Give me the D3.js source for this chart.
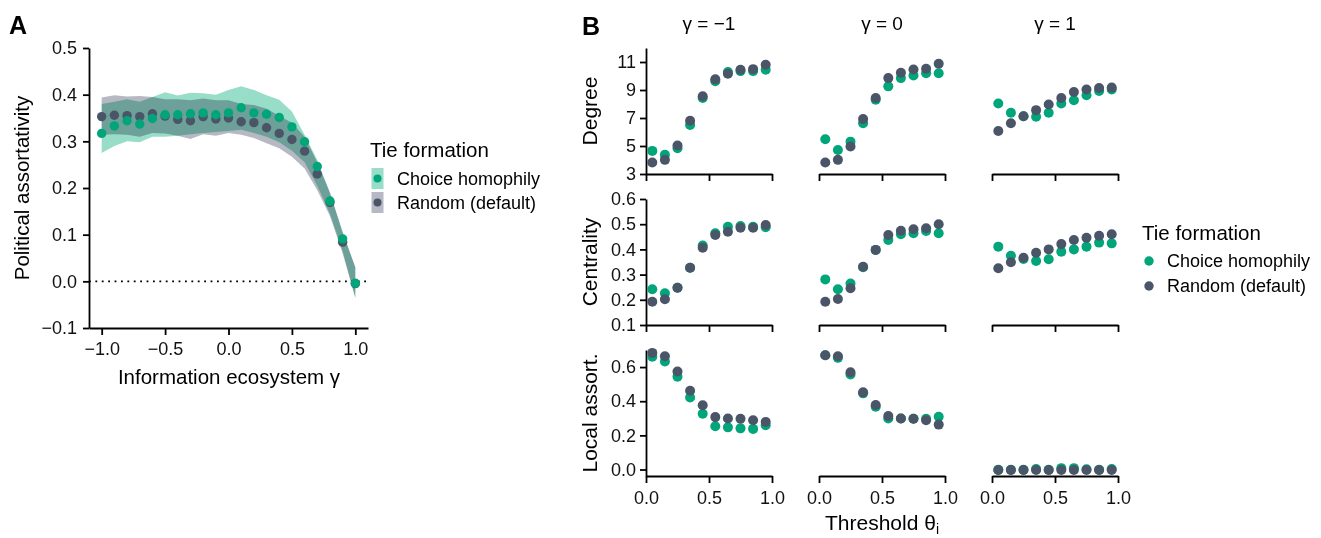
<!DOCTYPE html>
<html>
<head>
<meta charset="utf-8">
<script src="https://cdn.jsdelivr.net/npm/d3@7"></script>
<style>
  body { margin: 0; background: #fff; }
  svg { font-family: "Liberation Sans", Arial, sans-serif; }
  .axis path, .axis line { stroke: #000; stroke-width: 1.8; }
  .axis text { fill: #111; }
</style>
</head>
<body>
<div id="chart"></div>
<script>
// panel A data: political assortativity vs information ecosystem gamma
const gammaA = [-1.0, -0.9, -0.8, -0.7, -0.6, -0.5, -0.4, -0.3, -0.2, -0.1, 0.0, 0.1, 0.2, 0.3, 0.4, 0.5, 0.6, 0.7, 0.8, 0.9, 1.0];
const choiceA = [0.317, 0.333, 0.344, 0.337, 0.349, 0.357, 0.357, 0.359, 0.361, 0.357, 0.361, 0.372, 0.361, 0.358, 0.351, 0.331, 0.299, 0.246, 0.172, 0.091, -0.004];
const choiceLoA = [0.275, 0.290, 0.300, 0.298, 0.310, 0.310, 0.312, 0.315, 0.318, 0.320, 0.322, 0.325, 0.318, 0.310, 0.298, 0.280, 0.255, 0.205, 0.145, 0.065, -0.035];
const choiceHiA = [0.380, 0.385, 0.390, 0.385, 0.395, 0.405, 0.398, 0.404, 0.403, 0.400, 0.410, 0.418, 0.410, 0.399, 0.389, 0.364, 0.314, 0.260, 0.190, 0.105, 0.030];
const randomA = [0.353, 0.356, 0.355, 0.353, 0.359, 0.354, 0.347, 0.344, 0.353, 0.348, 0.350, 0.342, 0.340, 0.329, 0.317, 0.304, 0.279, 0.230, 0.169, 0.084, -0.005];
const randomLoA = [0.314, 0.315, 0.314, 0.310, 0.318, 0.317, 0.312, 0.305, 0.315, 0.312, 0.318, 0.314, 0.307, 0.296, 0.285, 0.267, 0.242, 0.195, 0.140, 0.060, -0.035];
const randomHiA = [0.394, 0.399, 0.396, 0.397, 0.395, 0.390, 0.390, 0.388, 0.392, 0.388, 0.388, 0.380, 0.378, 0.370, 0.355, 0.340, 0.310, 0.255, 0.190, 0.105, 0.030];

// panel B data: thresholds x gamma columns
const thresholds = [0.05, 0.15, 0.25, 0.35, 0.45, 0.55, 0.65, 0.75, 0.85, 0.95];
const gammaB = ["\u03b3 = \u22121", "\u03b3 = 0", "\u03b3 = 1"];
const degreeChoice = [
  [4.65, 4.37, 4.84, 6.50, 8.43, 9.62, 10.28, 10.35, 10.35, 10.45],
  [5.48, 4.72, 5.31, 6.62, 8.30, 9.26, 9.85, 10.04, 10.20, 10.20],
  [8.03, 7.37, 7.13, 7.09, 7.37, 8.03, 8.27, 8.62, 8.93, 9.03]];
const degreeRandom = [
  [3.82, 4.01, 5.03, 6.80, 8.55, 9.76, 10.16, 10.45, 10.49, 10.80],
  [3.82, 4.01, 4.96, 6.92, 8.43, 9.85, 10.23, 10.47, 10.52, 10.87],
  [6.07, 6.62, 7.13, 7.56, 7.96, 8.43, 8.86, 9.03, 9.14, 9.17]];
const centralityChoice = [
  [0.242, 0.226, 0.248, 0.327, 0.415, 0.464, 0.490, 0.493, 0.490, 0.488],
  [0.281, 0.242, 0.265, 0.329, 0.398, 0.437, 0.460, 0.464, 0.473, 0.464],
  [0.411, 0.375, 0.362, 0.354, 0.361, 0.391, 0.400, 0.411, 0.427, 0.424]];
const centralityRandom = [
  [0.192, 0.202, 0.248, 0.327, 0.407, 0.457, 0.470, 0.486, 0.486, 0.497],
  [0.192, 0.203, 0.246, 0.331, 0.398, 0.457, 0.474, 0.480, 0.484, 0.500],
  [0.325, 0.349, 0.367, 0.387, 0.400, 0.421, 0.437, 0.446, 0.454, 0.460]];
const localChoice = [
  [0.660, 0.633, 0.544, 0.422, 0.327, 0.253, 0.247, 0.241, 0.238, 0.259],
  [0.669, 0.654, 0.556, 0.446, 0.368, 0.299, 0.299, 0.297, 0.297, 0.309],
  [-0.002, -0.002, -0.002, 0.003, -0.002, 0.008, 0.008, 0.002, -0.002, 0.003]];
const localRandom = [
  [0.683, 0.663, 0.574, 0.461, 0.376, 0.307, 0.299, 0.297, 0.289, 0.279],
  [0.669, 0.663, 0.570, 0.452, 0.378, 0.313, 0.299, 0.297, 0.289, 0.263],
  [-0.003, -0.003, -0.003, -0.003, -0.003, -0.003, -0.003, -0.003, -0.003, -0.003]];

const seriesNames = ["Choice homophily", "Random (default)"];

// colours
const green = "#00a67a";
const slate = "#4a5568";
const greenBand = "#98ddc7";
const slateBand = "#b6b9c3";

const width = 1321, height = 538;
const svg = d3.select("#chart").append("svg")
  .attr("width", width).attr("height", height);

// ---------- panel A ----------
const xA = d3.scaleLinear().domain([-1.1, 1.1]).range([89, 368]);
const yA = d3.scaleLinear().domain([-0.1, 0.5]).range([328, 48]);

const area = (lo, hi) => d3.area()
  .x((d, i) => xA(gammaA[i]))
  .y0((d, i) => yA(lo[i]))
  .y1((d, i) => yA(hi[i]));

svg.append("path")
  .attr("d", area(randomLoA, randomHiA)(gammaA))
  .attr("fill", slateBand)
  .style("mix-blend-mode", "multiply");
svg.append("path")
  .attr("d", area(choiceLoA, choiceHiA)(gammaA))
  .attr("fill", greenBand)
  .style("mix-blend-mode", "multiply");

// zero line
svg.append("line")
  .attr("x1", xA.range()[0]).attr("x2", xA.range()[1])
  .attr("y1", yA(0)).attr("y2", yA(0))
  .attr("stroke", "#000").attr("stroke-width", 1.8)
  .attr("stroke-dasharray", "1.8,4.6");

svg.append("g").selectAll("circle")
  .data(randomA).join("circle")
    .attr("cx", (d, i) => xA(gammaA[i]))
    .attr("cy", d => yA(d))
    .attr("r", 4.7)
    .attr("fill", slate);
svg.append("g").selectAll("circle")
  .data(choiceA).join("circle")
    .attr("cx", (d, i) => xA(gammaA[i]))
    .attr("cy", d => yA(d))
    .attr("r", 4.7)
    .attr("fill", green);

const axA_y = svg.append("g").attr("class", "axis")
  .attr("transform", "translate(89,0)")
  .call(d3.axisLeft(yA).tickValues([-0.1, 0, 0.1, 0.2, 0.3, 0.4, 0.5])
    .tickFormat(d3.format(".1f")).tickSize(6).tickSizeOuter(0).tickPadding(6));
const axA_x = svg.append("g").attr("class", "axis")
  .attr("transform", "translate(0,328)")
  .call(d3.axisBottom(xA).tickValues([-1, -0.5, 0, 0.5, 1])
    .tickFormat(d3.format(".1f")).tickSize(7).tickSizeOuter(0).tickPadding(7));
[axA_y, axA_x].forEach(g => g.selectAll("text").attr("font-size", 18).attr("font-family", null));

svg.append("text")
  .attr("transform", "translate(29,188) rotate(-90)")
  .attr("text-anchor", "middle")
  .attr("font-size", 20.5)
  .text("Political assortativity");
svg.append("text")
  .attr("x", 229).attr("y", 384)
  .attr("text-anchor", "middle")
  .attr("font-size", 20.5)
  .text("Information ecosystem \u03b3");

svg.append("text").attr("x", 9).attr("y", 34)
  .attr("font-size", 25).attr("font-weight", "bold").text("A");

// legend A
const legA = svg.append("g").attr("transform", "translate(370,0)");
legA.append("text").attr("x", 0).attr("y", 157).attr("font-size", 20.5).text("Tie formation");
const legAItems = legA.selectAll(".item")
  .data(seriesNames).join("g")
    .attr("class", "item")
    .attr("transform", (d, i) => `translate(0,${168 + i * 24})`);
legAItems.append("rect")
  .attr("x", 1.5).attr("width", 12).attr("height", 21)
  .attr("fill", (d, i) => i === 0 ? greenBand : slateBand);
legAItems.append("circle")
  .attr("cx", 7.5).attr("cy", 10.5).attr("r", 4)
  .attr("fill", (d, i) => i === 0 ? green : slate);
legAItems.append("text")
  .attr("x", 27).attr("y", 17)
  .attr("font-size", 18)
  .text(d => d);

// ---------- panel B ----------
const colX0 = [646, 819, 992];
const colW = 126;
const rows = [
  { label: "Degree", top: 48, bottom: 174, domain: [3, 12], ticks: [3, 5, 7, 9, 11], fmt: d3.format("d"),
    choice: degreeChoice, random: degreeRandom },
  { label: "Centrality", top: 199, bottom: 325, domain: [0.1, 0.6], ticks: [0.1, 0.2, 0.3, 0.4, 0.5, 0.6], fmt: d3.format(".1f"),
    choice: centralityChoice, random: centralityRandom },
  { label: "Local assort.", top: 350, bottom: 476, domain: [-0.038, 0.7], ticks: [0, 0.2, 0.4, 0.6], fmt: d3.format(".1f"),
    choice: localChoice, random: localRandom }
];

rows.forEach((row, r) => {
  const y = d3.scaleLinear().domain(row.domain).range([row.bottom, row.top]);
  colX0.forEach((x0, c) => {
    const x = d3.scaleLinear().domain([0, 1]).range([x0, x0 + colW]);
    const g = svg.append("g");

    const ax = g.append("g").attr("class", "axis")
      .attr("transform", `translate(0,${row.bottom})`)
      .call(d3.axisBottom(x).tickValues([0, 0.5, 1])
        .tickFormat(r === 2 ? d3.format(".1f") : "")
        .tickSize(7).tickSizeOuter(0).tickPadding(8));
    ax.selectAll("text").attr("font-size", 18).attr("font-family", null);

    if (c === 0) {
      const ay = g.append("g").attr("class", "axis")
        .attr("transform", `translate(${x0},0)`)
        .call(d3.axisLeft(y).tickValues(row.ticks).tickFormat(row.fmt)
          .tickSize(6).tickSizeOuter(0).tickPadding(4));
      ay.selectAll("text").attr("font-size", 18).attr("font-family", null);
    }

    g.append("g").selectAll("circle")
      .data(row.choice[c]).join("circle")
        .attr("cx", (d, i) => x(thresholds[i]))
        .attr("cy", d => y(d))
        .attr("r", 5)
        .attr("fill", green);
    g.append("g").selectAll("circle")
      .data(row.random[c]).join("circle")
        .attr("cx", (d, i) => x(thresholds[i]))
        .attr("cy", d => y(d))
        .attr("r", 5)
        .attr("fill", slate);
  });

  svg.append("text")
    .attr("transform", `translate(597,${(row.top + row.bottom) / 2}) rotate(-90)`)
    .attr("text-anchor", "middle")
    .attr("font-size", 21)
    .text(row.label);
});

// column titles
svg.selectAll(".coltitle")
  .data(gammaB).join("text")
    .attr("class", "coltitle")
    .attr("x", (d, i) => colX0[i] + colW / 2)
    .attr("y", 30)
    .attr("text-anchor", "middle")
    .attr("font-size", 19)
    .text(d => d);

const thr = svg.append("text")
  .attr("x", colX0[1] + colW / 2).attr("y", 530)
  .attr("text-anchor", "middle")
  .attr("font-size", 21);
thr.append("tspan").text("Threshold \u03b8");
thr.append("tspan").attr("font-size", 14).attr("dy", 4).text("i");

svg.append("text").attr("x", 582).attr("y", 35)
  .attr("font-size", 25).attr("font-weight", "bold").text("B");

// legend B
const legB = svg.append("g").attr("transform", "translate(1142,0)");
legB.append("text").attr("x", 0).attr("y", 240).attr("font-size", 20.5).text("Tie formation");
const legBItems = legB.selectAll(".item")
  .data(seriesNames).join("g")
    .attr("class", "item")
    .attr("transform", (d, i) => `translate(0,${261 + i * 25})`);
legBItems.append("circle")
  .attr("cx", 7).attr("cy", 0).attr("r", 4.7)
  .attr("fill", (d, i) => i === 0 ? green : slate);
legBItems.append("text")
  .attr("x", 25).attr("y", 6)
  .attr("font-size", 18)
  .text(d => d);
</script>
</body>
</html>
